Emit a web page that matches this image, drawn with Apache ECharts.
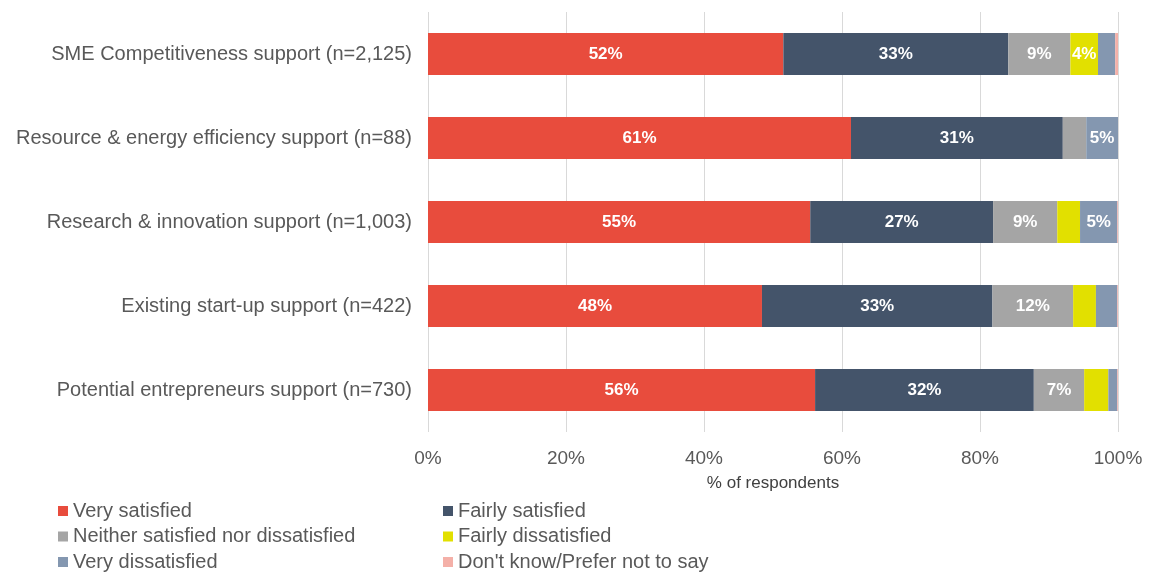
<!DOCTYPE html>
<html>
<head>
<meta charset="utf-8">
<script src="https://cdn.jsdelivr.net/npm/echarts@6/dist/echarts.min.js"></script>
<style>html,body{margin:0;padding:0;background:#fff}#c{width:1152px;height:574px}</style>
</head>
<body>
<div id="c"></div>
<script>
const categories = [
  "SME Competitiveness support (n=2,125)",
  "Resource & energy efficiency support (n=88)",
  "Research & innovation support (n=1,003)",
  "Existing start-up support (n=422)",
  "Potential entrepreneurs support (n=730)"
];
const seriesNames = ["Very satisfied","Fairly satisfied","Neither satisfied nor dissatisfied","Fairly dissatisfied","Very dissatisfied","Don't know/Prefer not to say"];
const verySatisfied    = [51.5, 61.3, 55.4, 48.4, 56.1];
const fairlySatisfied  = [32.6, 30.7, 26.5, 33.4, 31.7];
const neither          = [9.0, 3.4, 9.3, 11.7, 7.3];
const fairlyDissat     = [4.0, 0, 3.3, 3.3, 3.5];
const veryDissat       = [2.5, 4.6, 5.4, 3.1, 1.3];
const dontKnow         = [0.4, 0, 0.1, 0.1, 0.1];
const xTicks = [0, 20, 40, 60, 80, 100];

const colors = ["#E84C3D","#44546A","#A5A5A5","#E2E000","#8497B0","#F4B0A8"];
const values = [verySatisfied, fairlySatisfied, neither, fairlyDissat, veryDissat, dontKnow];
const font = "Liberation Sans, Arial, sans-serif";

const chart = echarts.init(document.getElementById('c'), null, {renderer: 'canvas'});
const series = seriesNames.map((n, i) => ({
  name: n,
  type: 'bar',
  stack: 'total',
  barWidth: '50%',
  data: values[i],
  itemStyle: {color: colors[i]},
  label: {
    show: true,
    position: 'inside',
    color: '#fff',
    fontWeight: 'bold',
    fontSize: 17,
    fontFamily: font,
    formatter: p => p.value >= 3.8 ? Math.round(p.value) + '%' : ''
  }
}));

const legendText = {color: '#595959', fontSize: 20, fontFamily: font, lineHeight: 20};
chart.setOption({
  animation: false,
  grid: {left: 428, right: 34, top: 12, height: 420, containLabel: false},
  xAxis: {
    type: 'value', min: 0, max: 100, interval: 20,
    name: '% of respondents', nameLocation: 'middle', nameGap: 43,
    nameTextStyle: {color: '#404040', fontSize: 17, fontFamily: font},
    axisLine: {show: false}, axisTick: {show: false},
    splitLine: {lineStyle: {color: '#D9D9D9', width: 1}},
    axisLabel: {color: '#595959', fontSize: 19, fontFamily: font, margin: 17,
      formatter: v => xTicks.indexOf(v) >= 0 ? v + '%' : ''}
  },
  yAxis: {
    type: 'category', data: categories, inverse: true,
    axisLine: {show: false}, axisTick: {show: false},
    axisLabel: {color: '#595959', fontSize: 20, fontFamily: font, margin: 16}
  },
  legend: [
    {data: [seriesNames[0], seriesNames[2], seriesNames[4]], orient: 'vertical', left: 58, top: 501,
     padding: 0, itemWidth: 10, itemHeight: 10, itemGap: 5.5, icon: 'rect', textStyle: legendText},
    {data: [seriesNames[1], seriesNames[3], seriesNames[5]], orient: 'vertical', left: 443, top: 501,
     padding: 0, itemWidth: 10, itemHeight: 10, itemGap: 5.5, icon: 'rect', textStyle: legendText}
  ],
  series: series
});
</script>
</body>
</html>
